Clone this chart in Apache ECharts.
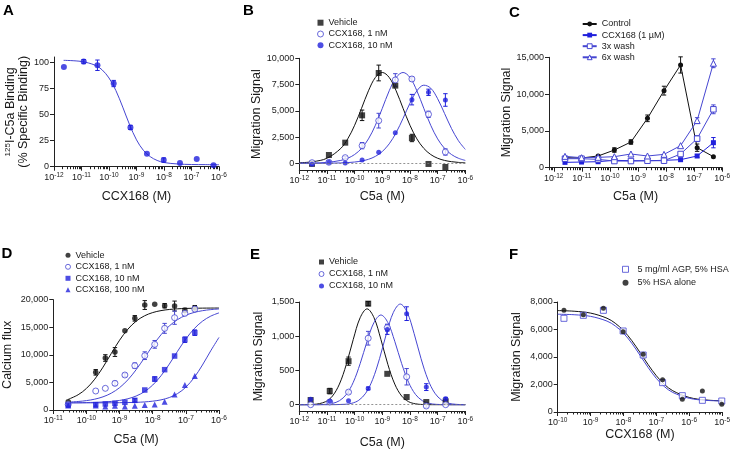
<!DOCTYPE html>
<html><head><meta charset="utf-8">
<script src="https://cdn.jsdelivr.net/npm/echarts@6/dist/echarts.min.js"></script>
<style>html,body{margin:0;padding:0;background:#fff}#c{width:733px;height:452px}</style>
</head><body><div id="c"></div>
<script>
// ---------- DATA (x values are log10 of molar concentration) ----------
// Panel A
const aLogConc = [-11.64, -10.92, -10.42, -9.83, -9.22, -8.62, -8.01, -7.42, -6.81, -6.2];
const aBinding = [95.5, 100.6, 97.1, 79.6, 37.6, 12.4, 6.4, 3.5, 7.3, 1.3];
const aBindingErr = [0, 2, 5, 3, 2, 0, 2, 0, 0, 0];
const aFitX = [-11.65, -11.0, -10.5, -10.25, -10.0, -9.75, -9.5, -9.25, -9.0, -8.75, -8.5, -8.25, -8.0, -7.5, -7.0, -6.5, -6.0];
const aFitY = [101.8, 100.7, 97.1, 92.7, 84.9, 72.9, 57.0, 40.1, 25.7, 15.7, 9.6, 6.0, 4.0, 2.6, 2.1, 2.0, 1.9];

// Panel B
const bLogConc = [-11.54, -10.93, -10.34, -9.73, -9.13, -8.53, -7.93, -7.33, -6.72];
const bVehicle = [-50, 794, 1968, 4571, 8603, 7400, 2413, -60, -350];
const bVehicleErr = [0, 0, 0, 500, 750, 0, 350, 0, 0];
const b1nM = [60, 100, 540, 1683, 4063, 7937, 8032, 4667, 1080];
const b1nMErr = [0, 0, 100, 300, 700, 600, 200, 300, 300];
const b10nM = [-95, 95, 30, 317, 1048, 2921, 6063, 6762, 6032];
const b10nMErr = [0, 0, 0, 0, 0, 0, 500, 300, 600];
const bFitX = [-12, -11.5, -11, -10.5, -10.25, -10, -9.75, -9.5, -9.25, -9, -8.75, -8.5, -8.25, -8, -7.75, -7.5, -7.25, -7, -6.75, -6.5, -6.25, -6];
const bFitVehicle = [50, 158, 485, 1422, 2328, 3623, 5238, 6905, 8175, 8650, 8175, 6905, 5238, 3623, 2328, 1422, 840, 485, 278, 158, 89, 50];
const bFit1nM = [9, 28, 89, 278, 485, 840, 1422, 2328, 3623, 5238, 6905, 8175, 8650, 8175, 6905, 5238, 3623, 2328, 1422, 840, 485, 278];
const bFit10nM = [1, 4, 12, 40, 70, 124, 219, 382, 663, 1127, 1856, 2919, 4276, 5727, 6900, 7441, 7157, 6153, 4747, 3325, 2160, 1327];

// Panel C
const cLogConc = [-11.6, -11.01, -10.42, -9.84, -9.25, -8.66, -8.07, -7.48, -6.89, -6.31];
const cControl = [1360, 1315, 1590, 2400, 3490, 6710, 10470, 13960, 2720, 1500];
const cControlErr = [0, 0, 0, 300, 300, 450, 600, 1100, 500, 0];
const cCCX168 = [725, 770, 815, 1000, 950, 950, 1000, 1090, 1590, 3400];
const cCCX168Err = [0, 0, 0, 0, 0, 0, 0, 0, 200, 700];
const c3xWash = [1224, 1224, 1133, 906, 906, 950, 950, 1860, 3945, 7933];
const c3xWashErr = [0, 0, 0, 0, 0, 0, 0, 0, 400, 600];
const c6xWash = [1541, 1360, 1405, 1500, 1860, 1590, 1813, 2992, 6400, 14190];
const c6xWashErr = [0, 0, 0, 0, 0, 0, 0, 0, 400, 600];

// Panel D
const dLogConc = [-10.55, -9.72, -9.43, -9.14, -8.84, -8.54, -8.24, -7.94, -7.64, -7.34, -7.03, -6.73];
const dVehicle = [1510, 6828, 9426, 10514, 14380, 16616, 19033, 19154, 18912, 18852, 18066, 18550];
const dVehicleErr = [0, 500, 600, 800, 0, 500, 800, 0, 400, 900, 400, 400];
const d1nM = [1000, 3444, 3927, 4834, 6344, 8036, 9849, 11903, 14803, 16737, 17523, 18300];
const d1nMErr = [0, 0, 0, 400, 300, 500, 700, 700, 900, 1200, 400, 0];
const d10nM = [906, 967, 1088, 1209, 1390, 1752, 3625, 5619, 7311, 9789, 12749, 14018];
const d10nMErr = [0, 0, 0, 0, 0, 300, 0, 400, 0, 0, 500, 500];
const d100nM = [800, 800, 650, 750, 650, 750, 900, 1000, 1500, 2800, 4550, 6150];
const dFitX = [-10.55, -10.25, -10, -9.75, -9.5, -9.25, -9, -8.75, -8.5, -8.25, -8, -7.75, -7.5, -7.25, -7, -6.75, -6.5, -6.25, -6];
const dFitVehicle = [1932, 2766, 3912, 5583, 7770, 10254, 12658, 14650, 16106, 17069, 17665, 18021, 18227, 18346, 18413, 18452, 18472, 18483, 18491];
const dFit1nM = [1431, 1542, 1703, 1966, 2389, 3053, 4053, 5469, 7310, 9456, 11654, 13643, 15236, 16393, 17179, 17688, 18007, 18202, 18322];
const dFit10nM = [1305, 1315, 1350, 1386, 1448, 1555, 1734, 2038, 2535, 3328, 4527, 6205, 8318, 10653, 12876, 14726, 16093, 17019, 17611];
const dFit100nM = [1300, 1300, 1300, 1300, 1302, 1310, 1327, 1349, 1390, 1464, 1601, 1838, 2260, 2978, 4143, 5875, 8158, 10731, 13162];

// Panel E
const eLogConc = [-11.59, -10.9, -10.22, -9.51, -8.82, -8.12, -7.41, -6.71];
const eVehicle = [68, 199, 636, 1476, 451, 112, 39, 49];
const eVehicleErr = [0, 40, 60, 30, 0, 0, 0, 0];
const e1nM = [0, 40, 184, 971, 1126, 408, -19, 0];
const e1nMErr = [0, 0, 20, 100, 50, 120, 20, 0];
const e10nM = [78, 49, 58, 238, 1097, 1330, 257, 87];
const e10nMErr = [0, 0, 0, 20, 70, 100, 50, 20];
const eFitVehicleX = [-12, -11.5, -11.05, -10.8, -10.55, -10.3, -10.05, -9.8, -9.55, -9.3, -9.05, -8.8, -8.55, -8.3, -8.05, -7.8, -7.55, -7, -6];
const eFitVehicleY = [0, 4, 44, 127, 301, 589, 953, 1271, 1400, 1271, 953, 589, 301, 127, 44, 13, 3, 0, 0];
const eFit1nMX = [-12, -11.55, -11.05, -10.8, -10.55, -10.3, -10.05, -9.8, -9.55, -9.3, -9.05, -8.8, -8.55, -8.3, -8.05, -7.8, -7.55, -7.3, -7.05, -6.55, -6];
const eFit1nMY = [0, 0, 5, 19, 58, 150, 327, 600, 926, 1201, 1310, 1201, 926, 600, 327, 150, 58, 19, 5, 0, 0];
const eFit10nMX = [-12, -11, -10.35, -10.1, -9.85, -9.6, -9.35, -9.1, -8.85, -8.6, -8.35, -8.1, -7.85, -7.6, -7.35, -7.1, -6.85, -6.6, -6.35, -6];
const eFit10nMY = [0, 0, 6, 21, 65, 168, 367, 673, 1039, 1348, 1470, 1348, 1039, 673, 367, 168, 65, 21, 6, 0];

// Panel F
const fLogConc = [-9.81, -9.22, -8.61, -8.01, -7.40, -6.81, -6.21, -5.6, -5.01];
const fAGP = [6812, 7030, 7394, 5891, 4145, 2133, 1188, 848, 800];
const fHSA = [7394, 7079, 7539, 5842, 4194, 2352, 921, 1527, 558];
const fFitX = [-10, -9.5, -9, -8.5, -8.25, -8, -7.75, -7.5, -7.25, -7, -6.75, -6.5, -6, -5.5, -5];
const fFitHSA = [7376, 7329, 7193, 6819, 6456, 5922, 5203, 4343, 3447, 2638, 2000, 1545, 1058, 876, 812];
const fFitAGP = [7112, 7074, 6956, 6611, 6261, 5734, 5010, 4138, 3237, 2443, 1836, 1421, 997, 850, 802];

// ---------- STYLE / LAYOUT ----------
const FONT = '"Liberation Sans", Arial, Helvetica, sans-serif';
const TXT = '#1a1a1a', AX = '#222';
const BLUE = '#2020dc', BLUE_L = '#4646d2', BLACK = '#111';

const panels = [
  {grid:{left:54, top:57, width:165, height:109.7}, x:[-12,-6], y:[0,105], yt:[0,25,50,75,100], xName:'CCX168 (M)', xGap:23,
   yName:'{s|125}I-C5a Binding\n(% Specific Binding)', yGap:20},
  {grid:{left:299.3, top:58.3, width:166, height:111.7}, x:[-12,-6], y:[-635,10000], yt:[0,2500,5000,7500,10000], xName:'C5a (M)', xGap:20, yName:'Migration Signal', yGap:34},
  {grid:{left:549, top:57.3, width:174.5, height:110.4}, x:[-12.17,-6], y:[0,15000], yt:[0,5000,10000,15000], xName:'C5a (M)', xGap:22, yName:'Migration Signal', yGap:27},
  {grid:{left:53.3, top:299.7, width:165.7, height:110.3}, x:[-11,-6], y:[0,20000], yt:[0,5000,10000,15000,20000], xName:'C5a (M)', xGap:23, yName:'Calcium flux', yGap:39},
  {grid:{left:299.3, top:302, width:166, height:109}, x:[-12,-6], y:[-92,1500], yt:[0,500,1000,1500], xName:'C5a (M)', xGap:25, yName:'Migration Signal', yGap:34.5},
  {grid:{left:557.7, top:302, width:165.6, height:110}, x:[-10,-5], y:[0,8000], yt:[0,2000,4000,6000,8000], xName:'CCX168 (M)', xGap:16, yName:'Migration Signal', yGap:34.5}
];

function decades(min, max){ const a=[]; for(let n=Math.ceil(min-1e-9); n<=max+1e-9; n++) a.push(n); return a; }
function minors(min, max){ const a=[]; for(let n=Math.floor(min); n<max; n++) for(let k=2;k<=9;k++){ const v=n+Math.log10(k); if(v>=min && v<=max) a.push(v);} return a; }
function pts(xs, ys){ return xs.map((x,i)=>[x, ys[i]]); }

const grids=[], xAxes=[], yAxes=[];
panels.forEach((p, gi) => {
  grids.push(Object.assign({containLabel:false}, p.grid));
  const dec = decades(p.x[0], p.x[1]);
  const allTicks = dec.concat(minors(p.x[0], p.x[1])).sort((a,b)=>a-b);
  xAxes.push({type:'value', gridIndex:gi, position:'bottom', min:p.x[0], max:p.x[1],
    axisLine:{show:true, onZero:false, lineStyle:{color:AX, width:1}},
    axisTick:{show:true, length:2.5, customValues:allTicks, lineStyle:{color:AX, width:1}},
    axisLabel:{show:true, customValues:dec, margin:5, color:TXT, fontFamily:FONT, fontSize:9,
      formatter:v=>'{b|10}{s|'+Math.round(v)+'}',
      rich:{b:{fontSize:9, fontFamily:FONT, color:TXT}, s:{fontSize:6.5, fontFamily:FONT, color:TXT, padding:[0,0,5,0]}}},
    splitLine:{show:false},
    name:p.xName, nameLocation:'middle', nameGap:p.xGap, nameTextStyle:{fontSize:12.5, fontFamily:FONT, color:TXT}});
  xAxes.push({type:'value', gridIndex:gi, position:'bottom', min:p.x[0], max:p.x[1],
    axisLine:{show:true, onZero:false, lineStyle:{color:'rgba(0,0,0,0)'}},
    axisLabel:{show:false, customValues:dec},
    axisTick:{show:true, length:4, customValues:dec, lineStyle:{color:AX, width:1}},
    splitLine:{show:false}});
  yAxes.push({type:'value', gridIndex:gi, position:'left', min:p.y[0], max:p.y[1],
    axisLine:{show:true, onZero:false, lineStyle:{color:AX, width:1}},
    axisTick:{show:true, length:4, customValues:p.yt, lineStyle:{color:AX, width:1}},
    axisLabel:{customValues:p.yt, margin:5, fontSize:9, fontFamily:FONT, color:TXT, formatter:v=>Number(v).toLocaleString('en-US')},
    splitLine:{show:false},
    name:p.yName, nameLocation:'middle', nameGap:p.yGap, nameRotate:90,
    nameTextStyle:{fontSize:12.5, fontFamily:FONT, color:TXT, lineHeight:13, rich:{s:{fontSize:8, fontFamily:FONT, color:TXT, padding:[0,0,5,0]}}}});
});

function fit(gi, xs, ys, color, zeroLine){
  const s = {type:'line', xAxisIndex:2*gi, yAxisIndex:gi, data:pts(xs, ys), showSymbol:false, symbol:'none', smooth:0.35,
    lineStyle:{color, width:1}, itemStyle:{color}, z:1, silent:true};
  if (zeroLine) s.markLine = {silent:true, symbol:['none','none'], label:{show:false}, data:[{yAxis:0}], lineStyle:{type:[2,2], color:'#777', width:0.8}};
  return s;
}
function scat(gi, name, xs, ys, symbol, size, color, open){
  return {type:'scatter', name, xAxisIndex:2*gi, yAxisIndex:gi, data:pts(xs, ys), symbol, symbolSize:size,
    itemStyle: open ? {color:'#fff', borderColor:color, borderWidth:1} : {color}, z:3, clip:false};
}
function lineSer(gi, name, xs, ys, symbol, size, color, open){
  return {type:'line', name, xAxisIndex:2*gi, yAxisIndex:gi, data:pts(xs, ys), symbol, symbolSize:size, showSymbol:true,
    lineStyle:{color, width:1}, itemStyle: open ? {color:'#fff', borderColor:color, borderWidth:1} : {color}, z:3};
}
function errs(gi, xs, ys, es, color){
  return {type:'custom', xAxisIndex:2*gi, yAxisIndex:gi, silent:true, clip:false, z:2,
    data: xs.map((x,i)=>[x, ys[i], es[i]]).filter(d=>d[2]>0), encode:{x:0, y:1},
    renderItem:(params, api)=>{
      const x=api.value(0), y=api.value(1), e=api.value(2);
      const hi=api.coord([x, y+e]), lo=api.coord([x, y-e]), w=2.2;
      const st={stroke:color, lineWidth:1, fill:null};
      return {type:'group', children:[
        {type:'line', shape:{x1:hi[0], y1:hi[1], x2:lo[0], y2:lo[1]}, style:st},
        {type:'line', shape:{x1:hi[0]-w, y1:hi[1], x2:hi[0]+w, y2:hi[1]}, style:st},
        {type:'line', shape:{x1:lo[0]-w, y1:lo[1], x2:lo[0]+w, y2:lo[1]}, style:st}]};
    }};
}

const series = [
  fit(0, aFitX, aFitY, BLUE_L),
  errs(0, aLogConc, aBinding, aBindingErr, BLUE),
  scat(0, 'A|CCX168', aLogConc, aBinding, 'circle', 6, BLUE, false),
  fit(1, bFitX, bFitVehicle, BLACK, true),
  fit(1, bFitX, bFit1nM, BLUE_L),
  fit(1, bFitX, bFit10nM, BLUE_L),
  errs(1, bLogConc, bVehicle, bVehicleErr, BLACK),
  errs(1, bLogConc, b1nM, b1nMErr, BLUE_L),
  errs(1, bLogConc, b10nM, b10nMErr, BLUE),
  scat(1, 'B|Vehicle', bLogConc, bVehicle, 'rect', 6, BLACK, false),
  scat(1, 'B|CCX168, 1 nM', bLogConc, b1nM, 'circle', 6, BLUE_L, true),
  scat(1, 'B|CCX168, 10 nM', bLogConc, b10nM, 'circle', 5, BLUE, false),
  errs(2, cLogConc, cControl, cControlErr, BLACK),
  errs(2, cLogConc, cCCX168, cCCX168Err, BLUE),
  errs(2, cLogConc, c3xWash, c3xWashErr, BLUE_L),
  errs(2, cLogConc, c6xWash, c6xWashErr, BLUE_L),
  lineSer(2, 'C|Control', cLogConc, cControl, 'circle', 5, BLACK, false),
  lineSer(2, 'C|CCX168 (1 \u00b5M)', cLogConc, cCCX168, 'rect', 5, BLUE, false),
  lineSer(2, 'C|3x wash', cLogConc, c3xWash, 'rect', 5.5, BLUE_L, true),
  lineSer(2, 'C|6x wash', cLogConc, c6xWash, 'triangle', 6, BLUE_L, true),
  fit(3, dFitX, dFitVehicle, BLACK),
  fit(3, dFitX, dFit1nM, BLUE_L),
  fit(3, dFitX, dFit10nM, BLUE_L),
  fit(3, dFitX, dFit100nM, BLUE_L),
  errs(3, dLogConc, dVehicle, dVehicleErr, BLACK),
  errs(3, dLogConc, d1nM, d1nMErr, BLUE_L),
  errs(3, dLogConc, d10nM, d10nMErr, BLUE),
  scat(3, 'D|Vehicle', dLogConc, dVehicle, 'circle', 5.5, BLACK, false),
  scat(3, 'D|CCX168, 1 nM', dLogConc, d1nM, 'circle', 6, BLUE_L, true),
  scat(3, 'D|CCX168, 10 nM', dLogConc, d10nM, 'rect', 5.5, BLUE, false),
  scat(3, 'D|CCX168, 100 nM', dLogConc, d100nM, 'triangle', 6, BLUE, false),
  fit(4, eFitVehicleX, eFitVehicleY, BLACK, true),
  fit(4, eFit1nMX, eFit1nMY, BLUE_L),
  fit(4, eFit10nMX, eFit10nMY, BLUE_L),
  errs(4, eLogConc, eVehicle, eVehicleErr, BLACK),
  errs(4, eLogConc, e1nM, e1nMErr, BLUE_L),
  errs(4, eLogConc, e10nM, e10nMErr, BLUE),
  scat(4, 'E|Vehicle', eLogConc, eVehicle, 'rect', 6, BLACK, false),
  scat(4, 'E|CCX168, 1 nM', eLogConc, e1nM, 'circle', 6, BLUE_L, true),
  scat(4, 'E|CCX168, 10 nM', eLogConc, e10nM, 'circle', 5, BLUE, false),
  fit(5, fFitX, fFitHSA, BLACK),
  fit(5, fFitX, fFitAGP, BLUE_L),
  scat(5, 'F|5 mg/ml AGP, 5% HSA', fLogConc, fAGP, 'rect', 6, BLUE_L, true),
  scat(5, 'F|5% HSA alone', fLogConc, fHSA, 'circle', 5, BLACK, false)
];

function legend(names, left, top, iw, ih, gap, padLeft){
  return {data:names, left, top, orient:'vertical', padding:0, itemGap:gap, itemWidth:iw, itemHeight:ih, selectedMode:false,
    itemStyle:{borderWidth:1},
    textStyle:{fontSize:9, fontFamily:FONT, color:TXT, lineHeight:11, padding:[0,0,0,padLeft||0]},
    formatter:n=>n.split('|')[1]};
}
const legends = [
  legend(['B|Vehicle','B|CCX168, 1 nM','B|CCX168, 10 nM'], 317, 17.2, 6, 6, 0.3),
  legend(['C|Control','C|CCX168 (1 \u00b5M)','C|3x wash','C|6x wash'], 581.7, 18.5, 14, 6, 0.1),
  legend(['D|Vehicle','D|CCX168, 1 nM','D|CCX168, 10 nM','D|CCX168, 100 nM'], 65, 249.8, 5, 5, 0.5),
  legend(['E|Vehicle','E|CCX168, 1 nM','E|CCX168, 10 nM'], 318.5, 256.5, 5, 5, 1),
  legend(['F|5 mg/ml AGP, 5% HSA','F|5% HSA alone'], 622, 263.8, 6, 6, 2.4, 4)
];

const letters = [['A',3,3],['B',243,3.5],['C',509,5],['D',1.5,246],['E',250,247],['F',509,247]];
const graphic = letters.map(l=>({type:'text', left:l[1], top:l[2], style:{text:l[0], font:'bold 15px '+FONT, fill:'#000'}}));

const chart = echarts.init(document.getElementById('c'), null, {renderer:'canvas'});
chart.setOption({animation:false, backgroundColor:'#fff', grid:grids, xAxis:xAxes, yAxis:yAxes, series, legend:legends, graphic});
</script></body></html>
